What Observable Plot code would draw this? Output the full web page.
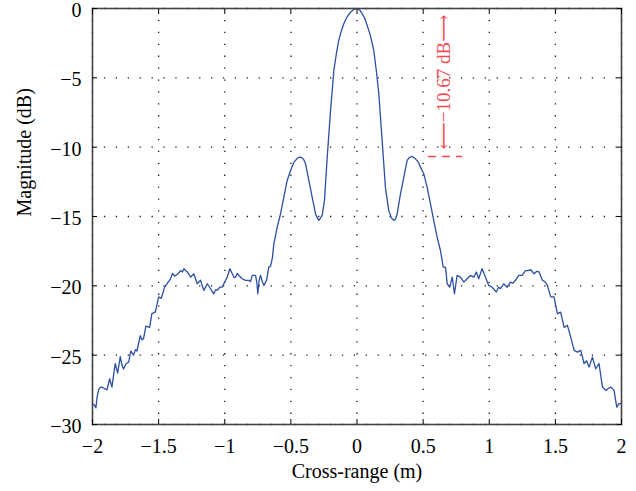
<!DOCTYPE html>
<html><head><meta charset="utf-8">
<script src="https://cdn.jsdelivr.net/npm/d3@7"></script>
<script src="https://cdn.jsdelivr.net/npm/@observablehq/plot@0.6"></script>
<style>body{margin:0;background:#fff}</style>
</head><body><div id="chart"></div>
<script>
const crossRange = [
-2.0,-1.985,-1.974,-1.965,-1.954,-1.94,-1.929,-1.91,-1.891,-1.87,-1.853,-1.84,-1.828,-1.81,-1.79,-1.778,-1.765,-1.745,-1.727,-1.71,
-1.69,-1.675,-1.664,-1.639,-1.625,-1.614,-1.596,-1.568,-1.551,-1.525,-1.5,-1.48,-1.455,-1.44,-1.425,-1.41,-1.395,-1.38,-1.37,-1.35,
-1.334,-1.32,-1.309,-1.295,-1.283,-1.258,-1.234,-1.208,-1.183,-1.158,-1.132,-1.107,-1.094,-1.082,-1.07,-1.057,-1.037,-1.02,-1.007,-0.981,
-0.961,-0.943,-0.93,-0.918,-0.905,-0.893,-0.868,-0.843,-0.818,-0.805,-0.792,-0.767,-0.757,-0.75,-0.74,-0.729,-0.716,-0.704,-0.684,-0.667,
-0.654,-0.64,-0.629,-0.603,-0.578,-0.553,-0.528,-0.503,-0.478,-0.447,-0.427,-0.405,-0.389,-0.364,-0.339,-0.314,-0.3,-0.289,-0.275,-0.263,
-0.246,-0.225,-0.2,-0.175,-0.155,-0.138,-0.118,-0.1,-0.075,-0.049,-0.025,0,0.02,0.04,0.06,0.077,0.1,0.127,0.145,0.165,
0.19,0.215,0.24,0.26,0.278,0.29,0.304,0.329,0.354,0.379,0.395,0.417,0.442,0.465,0.48,0.505,0.53,0.556,0.58,0.606,
0.631,0.652,0.669,0.682,0.701,0.72,0.737,0.757,0.782,0.808,0.833,0.858,0.883,0.903,0.92,0.946,0.971,0.996,1.022,1.04,
1.054,1.07,1.085,1.11,1.135,1.16,1.18,1.198,1.223,1.249,1.274,1.289,1.314,1.339,1.36,1.377,1.402,1.42,1.44,1.465,
1.49,1.515,1.54,1.566,1.591,1.616,1.642,1.667,1.692,1.717,1.735,1.755,1.78,1.805,1.83,1.856,1.881,1.9,1.918,1.944,
1.964,1.98,2.0
];
const magnitude = [
-28.5,-28.6,-28.8,-28.0,-27.5,-27.3,-27.3,-27.4,-27.5,-26.7,-27.3,-26.4,-25.6,-26.3,-25.1,-25.7,-26.0,-25.6,-25.5,-24.7,
-25.0,-24.6,-24.7,-23.6,-23.9,-23.8,-22.9,-23.0,-22.0,-21.9,-20.8,-20.9,-20.1,-19.9,-19.7,-19.5,-19.1,-19.3,-19.25,-19.1,
-18.9,-19.0,-18.77,-18.9,-19.0,-19.37,-19.13,-19.85,-19.6,-20.33,-19.85,-20.2,-20.45,-20.57,-20.3,-20.33,-20.1,-20.1,-19.85,-19.37,
-18.77,-19.13,-19.4,-19.37,-19.1,-19.25,-19.49,-19.6,-19.6,-19.7,-19.25,-19.25,-19.8,-20.57,-19.6,-19.25,-19.7,-19.97,-19.6,-18.65,
-18.6,-18.0,-16.97,-15.77,-14.8,-13.6,-12.4,-11.7,-11.1,-10.75,-10.72,-10.85,-11.2,-12.4,-13.6,-14.8,-15.1,-15.28,-15.1,-14.9,
-13.84,-10.7,-7.35,-4.47,-3.2,-2.3,-1.6,-1.1,-0.6,-0.27,-0.07,0,-0.1,-0.38,-0.75,-1.22,-1.9,-3.03,-4.4,-6.15,
-9.5,-12.9,-14.56,-15.1,-15.28,-15.2,-14.8,-13.36,-12.16,-10.96,-10.75,-10.67,-10.84,-11.1,-11.44,-11.92,-12.88,-14.1,-15.28,-16.5,
-17.45,-18.65,-18.65,-19.85,-20.1,-19.37,-20.57,-19.25,-19.37,-19.73,-19.49,-19.25,-19.37,-19.0,-19.49,-18.77,-19.37,-19.97,-20.1,-20.3,
-20.45,-20.1,-20.2,-19.85,-20.1,-19.73,-19.8,-19.6,-19.25,-19.25,-18.9,-18.9,-18.84,-19.13,-18.95,-19.0,-19.6,-19.7,-19.97,-20.8,
-20.8,-22.0,-21.9,-23.0,-22.85,-23.7,-24.66,-24.78,-24.66,-25.6,-25.4,-25.86,-25.14,-25.98,-25.6,-27.3,-27.54,-27.4,-27.3,-27.54,
-28.75,-28.5,-28.5
];
const xTicks = [-2, -1.5, -1, -0.5, 0, 0.5, 1, 1.5, 2];
const yTicks = [0, -5, -10, -15, -20, -25, -30];
const xLabel = "Cross-range (m)";
const yLabel = "Magnitude (dB)";
const annotationText = "\u27F5\u221210.67 dB\u27F6";
const annotationX = [0.66];
const annotationY = [-5.3];
const sidelobeLevel = [-10.67];
const sidelobeSpan = [0.54, 0.8];

const data = crossRange.map((x, i) => ({x, y: magnitude[i]}));
const fmt = d => d < 0 ? "\u2212" + Math.abs(d) : String(d);
const gridStyle = {stroke: "#000", strokeOpacity: 0.9, strokeWidth: 1.3, strokeDasharray: "1.3,10.6"};
const serif = "'Liberation Serif', 'Times New Roman', serif";

const chart = Plot.plot({
  width: 636,
  height: 491,
  marginLeft: 92,
  marginRight: 15,
  marginTop: 8,
  marginBottom: 67,
  style: {fontFamily: serif, fontSize: "20px", background: "#fff", color: "#000", overflow: "visible"},
  x: {domain: [-2, 2]},
  y: {domain: [-30, 0]},
  marks: [
    Plot.gridX(xTicks, gridStyle),
    Plot.gridY(yTicks, gridStyle),
    Plot.line(data, {x: "x", y: "y", stroke: "#2c4fa3", strokeWidth: 1.3}),
    Plot.ruleY(sidelobeLevel, {x1: sidelobeSpan[0], x2: sidelobeSpan[1], stroke: "#ee4a50", strokeWidth: 1.5, strokeDasharray: "8,6"}),
    Plot.text([annotationText], {x: () => annotationX[0], y: () => annotationY[0], rotate: -90, fill: "#ee4a50", fontSize: 19, fontFamily: "'Liberation Serif', 'DejaVu Serif', serif"}),
    Plot.frame({stroke: "#444", strokeWidth: 1.6}),
    Plot.axisX(xTicks, {anchor: "bottom", tickSize: -5, tickPadding: 19, tickFormat: fmt, label: null, fontSize: 20}),
    Plot.axisX(xTicks, {anchor: "top", tickSize: -5, tickFormat: () => "", label: null}),
    Plot.axisY(yTicks, {anchor: "left", tickSize: -5, tickFormat: () => "", label: null}),
    Plot.text(yTicks, {y: d => d, frameAnchor: "left", textAnchor: "end", dx: -11, dy: 2, text: fmt, fontSize: 20, fill: "#000"}),
    Plot.axisY(yTicks, {anchor: "right", tickSize: -5, tickFormat: () => "", label: null}),
    Plot.text([xLabel], {frameAnchor: "bottom", dy: 53, fontSize: 20, fill: "#000"}),
    Plot.text([yLabel], {frameAnchor: "left", dx: -68, rotate: -90, fontSize: 20, fill: "#000"})
  ]
});
document.getElementById("chart").appendChild(chart);
</script>
</body></html>
